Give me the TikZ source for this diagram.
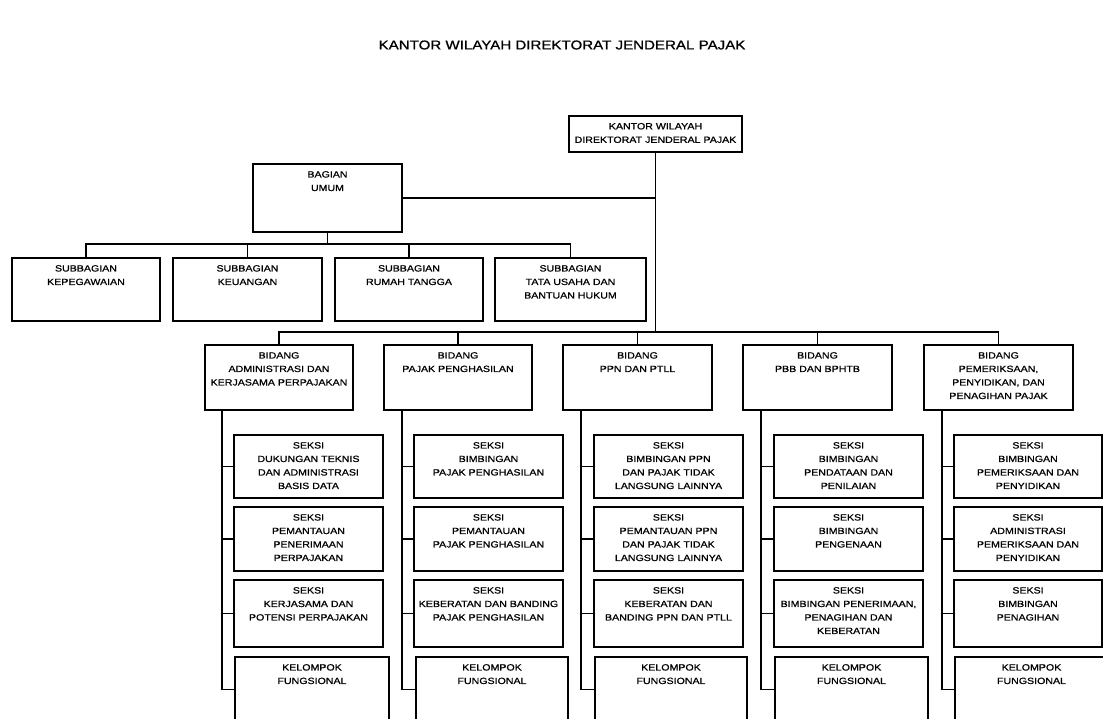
\documentclass[tikz,border=0pt]{standalone}
\usepackage{fontspec}
\setmainfont{Liberation Sans}[FakeStretch=1.18,FakeBold=0.9]
\tikzset{
  box/.style={draw, line width=1.6pt, rectangle, inner sep=0pt, outer sep=0pt},
  kbox/.style={draw, line width=2.8pt, rectangle, inner sep=0pt, outer sep=0pt},
  txt/.style={font=\fontsize{9}{13.5}\selectfont, align=center, inner sep=0pt, anchor=north},
  conn/.style={line width=1.3pt},
}
\newcommand\obox[7][box]{%
  \node[#1, minimum width={#5pt-#3pt}, minimum height={#6pt-#4pt}] (#2) at ({(#3+#5)/2},{(#4+#6)/2}) {};
  \node[txt] (#2t) at ({(#3+#5)/2},{#4+7}) {#7};}
\begin{document}
\begin{tikzpicture}[x=1pt,y=-1pt]
\useasboundingbox (0,0) rectangle (1103,718);
\node[font=\fontsize{12.8}{15}\selectfont, inner sep=0pt] (title) at (562,45) {KANTOR WILAYAH DIREKTORAT JENDERAL PAJAK};

% top
\node[box, minimum width=173pt, minimum height=36pt] (k) at (655.5,134) {};
\node[txt, anchor=center] (kt) at (655.5,133) {KANTOR WILAYAH\\DIREKTORAT JENDERAL PAJAK};

\obox{bu}{253}{164}{402}{232}{BAGIAN\\UMUM}

\obox{sb1}{12}{258}{160}{321}{SUBBAGIAN\\KEPEGAWAIAN}
\obox{sb2}{173}{258}{322}{321}{SUBBAGIAN\\KEUANGAN}
\obox{sb3}{335}{258}{483}{321}{SUBBAGIAN\\RUMAH TANGGA}
\obox{sb4}{495}{258}{646}{321}{SUBBAGIAN\\TATA USAHA DAN\\BANTUAN HUKUM}

\obox{b1}{205}{345}{353}{410}{BIDANG\\ADMINISTRASI DAN\\KERJASAMA PERPAJAKAN}
\obox{b2}{384}{345}{532}{410}{BIDANG\\PAJAK PENGHASILAN}
\obox{b3}{563}{345}{712}{410}{BIDANG\\PPN DAN PTLL}
\obox{b4}{743}{345}{892}{410}{BIDANG\\PBB DAN BPHTB}
\obox{b5}{924}{345}{1073}{410}{BIDANG\\PEMERIKSAAN,\\PENYIDIKAN, DAN\\PENAGIHAN PAJAK}

% column 1
\obox{s11}{234}{435}{383}{498}{SEKSI\\DUKUNGAN TEKNIS\\DAN ADMINISTRASI\\BASIS DATA}
\obox{s12}{234}{507}{383}{571}{SEKSI\\PEMANTAUAN\\PENERIMAAN\\PERPAJAKAN}
\obox{s13}{234}{580}{383}{647}{SEKSI\\KERJASAMA DAN\\POTENSI PERPAJAKAN}
\obox[kbox]{kf1}{235}{657}{389}{722}{KELOMPOK\\FUNGSIONAL}
% column 2
\obox{s21}{414}{435}{563}{498}{SEKSI\\BIMBINGAN\\PAJAK PENGHASILAN}
\obox{s22}{414}{507}{563}{571}{SEKSI\\PEMANTAUAN\\PAJAK PENGHASILAN}
\obox{s23}{414}{580}{563}{647}{SEKSI\\KEBERATAN DAN BANDING\\PAJAK PENGHASILAN}
\obox[kbox]{kf2}{416}{657}{568}{722}{KELOMPOK\\FUNGSIONAL}
% column 3
\obox{s31}{594}{435}{743}{498}{SEKSI\\BIMBINGAN PPN\\DAN PAJAK TIDAK\\LANGSUNG LAINNYA}
\obox{s32}{594}{507}{743}{571}{SEKSI\\PEMANTAUAN PPN\\DAN PAJAK TIDAK\\LANGSUNG LAINNYA}
\obox{s33}{594}{580}{743}{647}{SEKSI\\KEBERATAN DAN\\BANDING PPN DAN PTLL}
\obox[kbox]{kf3}{595}{657}{747}{722}{KELOMPOK\\FUNGSIONAL}
% column 4
\obox{s41}{774}{435}{923}{498}{SEKSI\\BIMBINGAN\\PENDATAAN DAN\\PENILAIAN}
\obox{s42}{774}{507}{923}{571}{SEKSI\\BIMBINGAN\\PENGENAAN}
\obox{s43}{774}{580}{923}{647}{SEKSI\\BIMBINGAN PENERIMAAN,\\PENAGIHAN DAN\\KEBERATAN}
\obox[kbox]{kf4}{775}{657}{928}{722}{KELOMPOK\\FUNGSIONAL}
% column 5
\obox{s51}{954}{435}{1102}{498}{SEKSI\\BIMBINGAN\\PEMERIKSAAN DAN\\PENYIDIKAN}
\obox{s52}{954}{507}{1102}{571}{SEKSI\\ADMINISTRASI\\PEMERIKSAAN DAN\\PENYIDIKAN}
\obox{s53}{954}{580}{1102}{647}{SEKSI\\BIMBINGAN\\PENAGIHAN}
\obox[kbox]{kf5}{955}{657}{1108}{722}{KELOMPOK\\FUNGSIONAL}

% connectors
\coordinate (busS) at (0,244);
\coordinate (busB) at (0,332);
\draw[conn] (k.south) -- (k.south |- busB);
\draw[conn] (bu.east) -- (bu.east -| k.south);
\draw[conn] (bu.south) -- (bu.south |- busS);
\draw[conn] (sb1.north) -- (sb1.north |- busS) -- (sb4.north |- busS) -- (sb4.north);
\draw[conn] (sb2.north) -- (sb2.north |- busS);
\draw[conn] (sb3.north) -- (sb3.north |- busS);
\draw[conn] (b1.north) -- (b1.north |- busB) -- (b5.north |- busB) -- (b5.north);
\foreach \b in {b2,b3,b4} \draw[conn] (\b.north) -- (\b.north |- busB);

\foreach \c/\x in {1/222,2/402,3/581,4/761,5/942} {
  \coordinate (t\c) at (\x,0);
  \draw[conn] (b\c.south -| t\c) |- (kf\c.west);
  \foreach \r in {1,2,3} \draw[conn] (s\c\r.west -| t\c) -- (s\c\r.west);
}
\end{tikzpicture}
\end{document}
